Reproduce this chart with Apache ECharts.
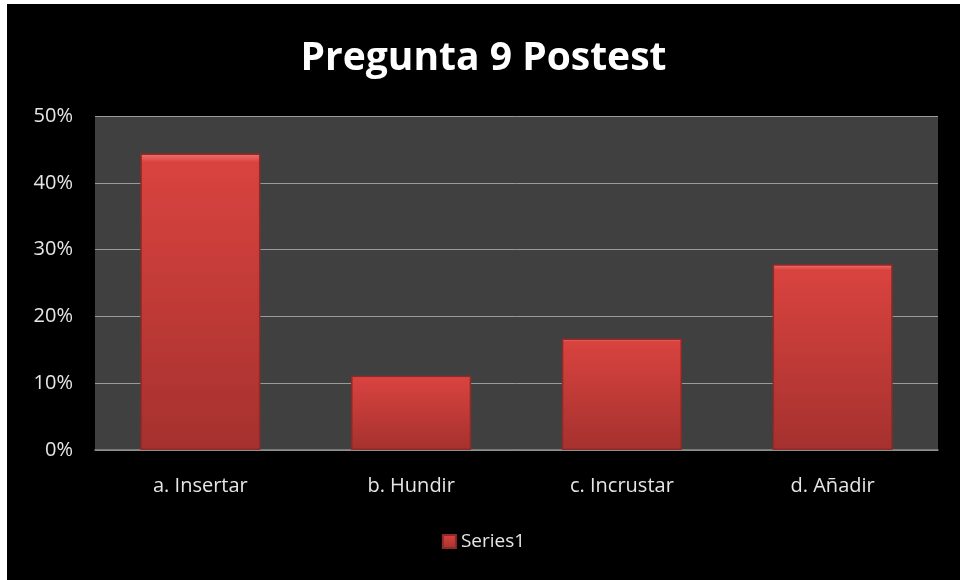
<!DOCTYPE html>
<html>
<head>
<meta charset="utf-8">
<script src="https://cdn.jsdelivr.net/npm/echarts@6/dist/echarts.min.js"></script>
<style>
  html, body { margin: 0; padding: 0; background: #fff; }
  #chart { position: absolute; left: 7px; top: 4px; width: 953px; height: 576px; background: #000; }
</style>
</head>
<body>
<div id="chart"></div>
<script>
const categories = ["a. Insertar", "b. Hundir", "c. Incrustar", "d. Añadir"];
const values = [0.444, 0.111, 0.167, 0.278];
const yTicks = [0, 0.1, 0.2, 0.3, 0.4, 0.5];

const chart = echarts.init(document.getElementById("chart"));

const option = {
  backgroundColor: "#000",
  title: {
    text: "Pregunta 9 Postest",
    left: "center",
    top: 30,
    textStyle: {
      color: "#fff",
      fontFamily: "Open Sans",
      fontWeight: "bold",
      fontSize: 39
    }
  },
  legend: {
    bottom: 24,
    left: "center",
    itemWidth: 13,
    itemHeight: 13,
    itemGap: 6,
    icon: "rect",
    textStyle: { color: "#e6e6e6", fontFamily: "Open Sans", fontSize: 19 },
    data: ["Series1"]
  },
  grid: {
    left: 88,
    right: 22,
    top: 112,
    bottom: 130,
    show: true,
    backgroundColor: "#404040",
    borderWidth: 0
  },
  xAxis: {
    type: "category",
    data: categories,
    axisLine: { lineStyle: { color: "#8c8c8c", width: 1.5 } },
    axisTick: { show: false },
    axisLabel: {
      color: "#e6e6e6",
      fontFamily: "Open Sans",
      fontSize: 20,
      margin: 26
    }
  },
  yAxis: {
    type: "value",
    min: yTicks[0],
    max: yTicks[yTicks.length - 1],
    interval: 0.1,
    axisLine: { show: false },
    axisTick: { show: false },
    splitLine: { lineStyle: { color: "#9a9a9a", width: 1 } },
    axisLabel: {
      color: "#e6e6e6",
      fontFamily: "Open Sans",
      fontSize: 20,
      margin: 22,
      formatter: v => Math.round(v * 100) + "%"
    }
  },
  series: [
    {
      name: "Series1",
      type: "bar",
      data: values,
      barWidth: "57%",
      itemStyle: {
        color: new echarts.graphic.LinearGradient(0, 0, 0, 1, [
          { offset: 0, color: "#f07470" },
          { offset: 0.03, color: "#d9433f" },
          { offset: 1, color: "#a5312e" }
        ]),
        borderColor: "#8e2a27",
        borderWidth: 1.5
      }
    }
  ]
};

chart.setOption(option);
</script>
</body>
</html>
